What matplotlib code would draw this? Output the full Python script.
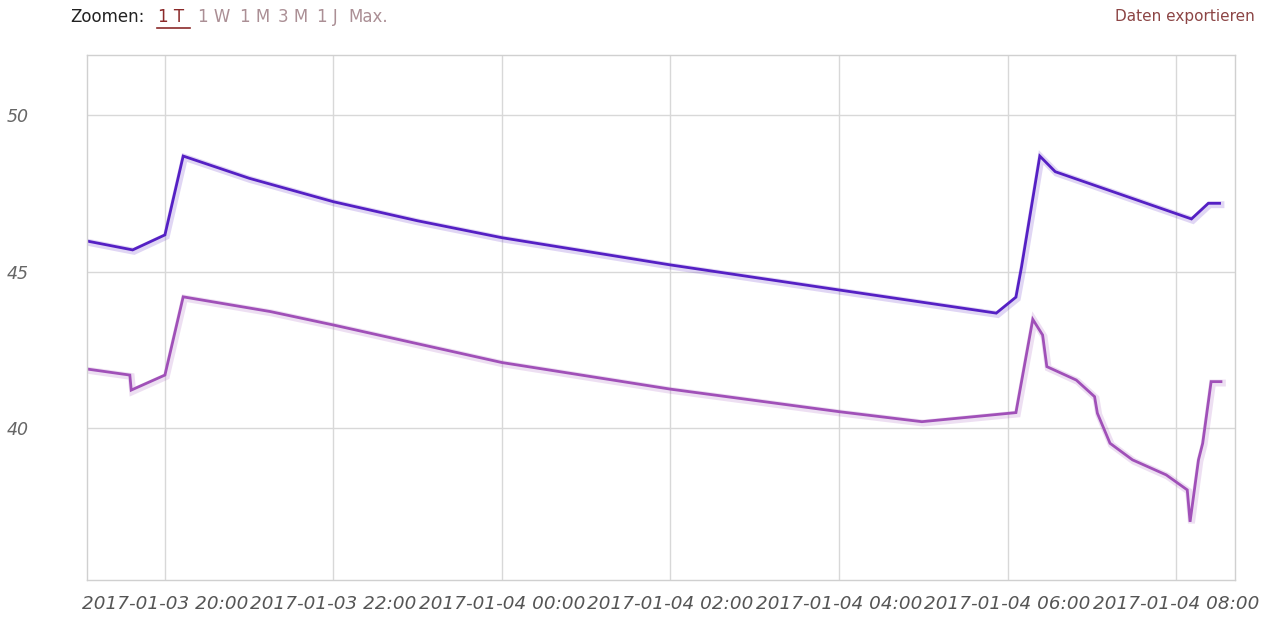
import matplotlib
matplotlib.use("Agg")
import matplotlib.pyplot as plt
import matplotlib.patheffects as pe
import pandas as pd

# upper series (blue-violet)
upper_times = ["2017-01-03 19:05", "2017-01-03 19:37", "2017-01-03 20:00", "2017-01-03 20:13",
               "2017-01-03 21:00", "2017-01-03 22:00", "2017-01-03 23:00", "2017-01-04 00:00",
               "2017-01-04 02:00", "2017-01-04 04:00", "2017-01-04 05:52", "2017-01-04 06:06",
               "2017-01-04 06:10", "2017-01-04 06:23", "2017-01-04 06:34", "2017-01-04 08:11",
               "2017-01-04 08:23", "2017-01-04 08:31"]
upper_vals = [45.97, 45.69, 46.17, 48.69,
              47.98, 47.23, 46.62, 46.08,
              45.21, 44.41, 43.67, 44.18,
              45.15, 48.69, 48.19, 46.68,
              47.18, 47.18]

# lower series (purple)
lower_times = ["2017-01-03 19:05", "2017-01-03 19:35", "2017-01-03 19:36", "2017-01-03 20:00",
               "2017-01-03 20:13", "2017-01-03 21:15", "2017-01-03 22:00", "2017-01-04 00:00",
               "2017-01-04 02:00", "2017-01-04 04:00", "2017-01-04 04:59", "2017-01-04 06:06",
               "2017-01-04 06:18", "2017-01-04 06:25", "2017-01-04 06:28", "2017-01-04 06:49",
               "2017-01-04 07:02", "2017-01-04 07:04", "2017-01-04 07:13", "2017-01-04 07:29",
               "2017-01-04 07:53", "2017-01-04 08:08", "2017-01-04 08:10", "2017-01-04 08:16",
               "2017-01-04 08:19", "2017-01-04 08:25", "2017-01-04 08:32"]
lower_vals = [41.88, 41.69, 41.21, 41.69,
              44.19, 43.72, 43.29, 42.09,
              41.24, 40.52, 40.20, 40.49,
              43.47, 42.97, 41.96, 41.53,
              41.00, 40.47, 39.51, 38.98,
              38.50, 38.02, 37.00, 38.98,
              39.51, 41.48, 41.48]

y_ticks = [40, 45, 50]
x_ticks = ["2017-01-03 20:00", "2017-01-03 22:00", "2017-01-04 00:00", "2017-01-04 02:00",
           "2017-01-04 04:00", "2017-01-04 06:00", "2017-01-04 08:00"]

zoom_buttons = ["1 W", "1 M", "3 M", "1 J", "Max."]
zoom_x = [198, 240, 278, 317, 348]

upper_color = "#5520c4"
lower_color = "#a050b8"

fig = plt.figure(figsize=(12.8, 6.25), dpi=100)
ax = fig.add_axes([87 / 1280, 45 / 625, (1235 - 87) / 1280, (580 - 55) / 625])

for times, vals, col in [(upper_times, upper_vals, upper_color), (lower_times, lower_vals, lower_color)]:
    ax.plot(pd.to_datetime(times), vals, color=col, lw=2.0, solid_joinstyle="miter",
            path_effects=[pe.SimpleLineShadow(offset=(1, -1), shadow_color=col, alpha=0.18, linewidth=5),
                          pe.Normal()])

ax.set_xlim(pd.Timestamp("2017-01-03 19:04:30"), pd.Timestamp("2017-01-04 08:42"))
ax.set_ylim(35.14, 51.92)

ax.set_yticks(y_ticks)
ax.set_yticklabels([str(v) for v in y_ticks])
ax.set_xticks(pd.to_datetime(x_ticks))
ax.set_xticklabels(x_ticks)

ax.grid(True, color="#d8d8d8", lw=1)
ax.set_axisbelow(True)
for s in ax.spines.values():
    s.set_color("#d0d0d0")
    s.set_linewidth(1)
ax.tick_params(length=0)
ax.tick_params(axis="y", pad=42, labelsize=12.5, labelcolor="#666666")
ax.tick_params(axis="x", pad=11, labelsize=13.2, labelcolor="#555555")
for lab in ax.get_xticklabels() + ax.get_yticklabels():
    lab.set_fontstyle("italic")

# zoom controls and export link at the top
ty = 1 - 17 / 625
fig.text(70 / 1280, ty, "Zoomen:", fontsize=12, color="#222222", va="center")
fig.text(158 / 1280, ty, "1 T", fontsize=12, color="#8b2a2a", va="center")
fig.add_artist(plt.Line2D([157 / 1280, 190 / 1280], [1 - 28 / 625, 1 - 28 / 625], color="#8b2a2a", lw=1.2))
for label, x in zip(zoom_buttons, zoom_x):
    fig.text(x / 1280, ty, label, fontsize=12, color="#ab8f95", va="center")
fig.text(1255 / 1280, ty, "Daten exportieren", fontsize=11, color="#8c4545", va="center", ha="right")

fig.savefig("out.png", dpi=100)
